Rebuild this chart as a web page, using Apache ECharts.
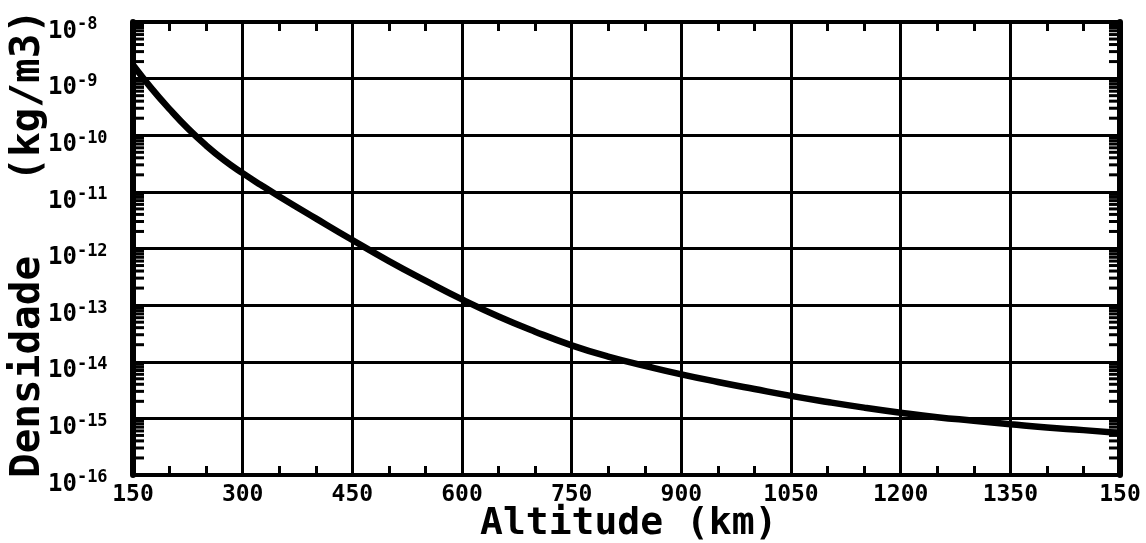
<!DOCTYPE html>
<html>
<head>
<meta charset="utf-8">
<script src="https://cdn.jsdelivr.net/npm/echarts@6/dist/echarts.min.js"></script>
<style>
html,body{margin:0;padding:0;background:#fff;}
#c{width:1146px;height:543px;}
</style>
</head>
<body>
<div id="c"></div>
<script>
// ---- data ----
var altitudes = [150,175,200,225,250,275,300,325,350,400,450,500,550,600,650,700,750,800,850,900,950,1000,1050,1100,1150,1200,1250,1300,1350,1400,1450,1500];
var densities = [1.74e-9,6.8e-10,2.9e-10,1.32e-10,6.6e-11,3.6e-11,2.14e-11,1.32e-11,8.3e-12,3.4e-12,1.41e-12,6.0e-13,2.7e-13,1.26e-13,6.3e-14,3.4e-14,1.95e-14,1.23e-14,8.5e-15,6.0e-15,4.4e-15,3.3e-15,2.5e-15,1.95e-15,1.55e-15,1.26e-15,1.05e-15,9.1e-16,7.9e-16,6.9e-16,6.2e-16,5.5e-16];
var xTickValues = [150,300,450,600,750,900,1050,1200,1350,1500];
var xTickLabels = ['150','300','450','600','750','900','1050','1200','1350','150'];
var yDecadeExponents = [-16,-15,-14,-13,-12,-11,-10,-9,-8];
var minorMultipliers = [2,3,4,5,6,7,8,9];

var FONT = 'DejaVu Sans Mono';

// minor (log) tick values for the custom tick series
var minorTickData = [];
for (var i = 0; i < yDecadeExponents.length - 1; i++) {
  for (var j = 0; j < minorMultipliers.length; j++) {
    minorTickData.push([150, minorMultipliers[j] * Math.pow(10, yDecadeExponents[i])]);
  }
}

var chart = echarts.init(document.getElementById('c'), null, {renderer: 'canvas'});

var lineData = altitudes.map(function (a, k) { return [a, densities[k]]; });

var xCommon = {
  type: 'value', min: 150, max: 1500, interval: 150,
  axisLine: {show: true, onZero: false, lineStyle: {color: '#000', width: 4}},
  axisTick: {show: true, inside: true, length: 8, lineStyle: {color: '#000', width: 3}},
  minorTick: {show: true, splitNumber: 3, length: 9, lineStyle: {color: '#000', width: 3}},
  minorSplitLine: {show: false}
};

chart.setOption({
  animation: false,
  backgroundColor: '#fff',
  grid: {left: 133, right: 26, top: 22, bottom: 68, containLabel: false},
  xAxis: [
    Object.assign({}, xCommon, {
      position: 'bottom',
      splitLine: {show: true, lineStyle: {color: '#000', width: 3}},
      axisLabel: {
        show: true, margin: 9, color: '#000', fontFamily: FONT, fontWeight: 'bold', fontSize: 23,
        formatter: function (v) {
          var idx = xTickValues.indexOf(Math.round(v));
          return idx >= 0 ? xTickLabels[idx] : '';
        }
      }
    }),
    Object.assign({}, xCommon, {
      position: 'top',
      splitLine: {show: false},
      axisLabel: {show: false}
    })
  ],
  yAxis: [
    {
      type: 'log', logBase: 10, min: 1e-16, max: 1e-8, interval: 1,
      position: 'left',
      axisLine: {show: true, onZero: false, lineStyle: {color: '#000', width: 6}},
      axisTick: {show: false},
      splitLine: {show: true, lineStyle: {color: '#000', width: 3}},
      axisLabel: {
        show: true, align: 'left', margin: 85, verticalAlign: 'middle',
        padding: [16, 0, 0, 0],
        formatter: function (v) {
          var e = Math.round(Math.log10(v));
          return '{b|10}{s|' + e + '}';
        },
        rich: {
          b: {fontFamily: FONT, fontWeight: 'bold', fontSize: 24, color: '#000', lineHeight: 27, verticalAlign: 'bottom'},
          s: {fontFamily: FONT, fontWeight: 'bold', fontSize: 17, color: '#000', lineHeight: 27, verticalAlign: 'top'}
        }
      }
    },
    {
      type: 'log', logBase: 10, min: 1e-16, max: 1e-8, interval: 1,
      position: 'right',
      axisLine: {show: true, onZero: false, lineStyle: {color: '#000', width: 6}},
      axisTick: {show: false},
      splitLine: {show: false},
      axisLabel: {show: false}
    }
  ],
  graphic: [
    {
      type: 'text', left: 480, top: 505,
      style: {text: 'Altitude (km)', font: 'bold 38px "DejaVu Sans Mono"', fill: '#000'}
    },
    {
      type: 'text', x: 8, y: 478, rotation: Math.PI / 2,
      style: {text: 'Densidade   (kg/m3)', font: 'bold 41px "DejaVu Sans Mono"', fill: '#000', textVerticalAlign: 'top'}
    }
  ],
  series: [
    {
      type: 'line',
      xAxisIndex: 0, yAxisIndex: 0,
      data: lineData,
      smooth: 0.5,
      showSymbol: false,
      symbol: 'none',
      lineStyle: {color: '#000', width: 6.5},
      z: 5
    },
    {
      type: 'custom',
      xAxisIndex: 0, yAxisIndex: 0,
      data: minorTickData,
      silent: true,
      z: 4,
      renderItem: function (params, api) {
        var p = api.coord([api.value(0), api.value(1)]);
        var cs = params.coordSys;
        var y = p[1];
        return {
          type: 'group',
          children: [
            {type: 'line', shape: {x1: cs.x, y1: y, x2: cs.x + 11, y2: y}, style: {stroke: '#000', lineWidth: 3}},
            {type: 'line', shape: {x1: cs.x + cs.width - 11, y1: y, x2: cs.x + cs.width, y2: y}, style: {stroke: '#000', lineWidth: 3}}
          ]
        };
      }
    }
  ]
});
</script>
</body>
</html>
